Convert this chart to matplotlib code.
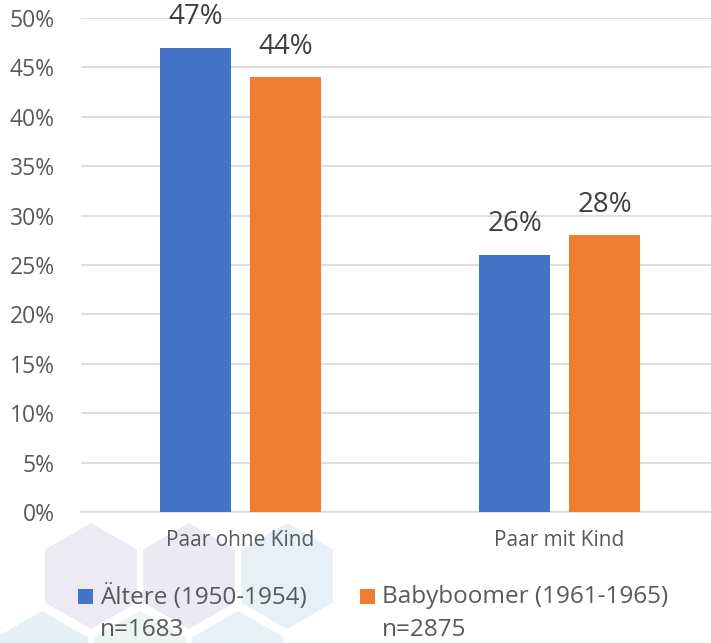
import numpy as np
import matplotlib.pyplot as plt
from matplotlib.patches import RegularPolygon, Rectangle

plt.rcParams['font.family'] = ['Open Sans', 'DejaVu Sans']

# Data
categories = ['Paar ohne Kind', 'Paar mit Kind']
series_names = ['Ältere (1950-1954)', 'Babyboomer (1961-1965)']
series_n = ['n=1683', 'n=2875']
aeltere = [47, 26]
babyboomer = [44, 28]
yticks = [0, 5, 10, 15, 20, 25, 30, 35, 40, 45, 50]

colors = ['#4472C4', '#ED7D31']
W, H = 711, 643
fig = plt.figure(figsize=(W / 100, H / 100), dpi=100)

# faint hexagon watermark in the lower left (pixel coords, top-left origin)
hexes = [(91, 576, '#ECEAF3'), (189, 576, '#EBE9F2'), (287, 576, '#E7F0F6'),
         (42, 664, '#E5F0F5'), (140, 664, '#ECF5F1'), (238, 664, '#E8F2F6')]
for hx, hy, hc in hexes:
    fig.patches.append(RegularPolygon((hx, H - hy), 6, radius=53,
                                      orientation=0, facecolor=hc, edgecolor='none',
                                      transform=None, zorder=-5))

ax = fig.add_axes([81 / W, (H - 512) / H, (W - 81) / W, 494 / H])
ax.patch.set_alpha(0)
ax.set_zorder(2)

x = np.arange(len(categories))
width = 0.223
off = 0.141
b1 = ax.bar(x - off, aeltere, width, color=colors[0], zorder=3)
b2 = ax.bar(x + off, babyboomer, width, color=colors[1], zorder=3)

for bars, vals in ((b1, aeltere), (b2, babyboomer)):
    for r, v in zip(bars, vals):
        ax.annotate(f'{v}%', (r.get_x() + r.get_width() / 2, v), xytext=(0, 12),
                    textcoords='offset points', ha='center', va='bottom',
                    fontsize=20, color='#404040')

ax.set_ylim(0, 50)
ax.set_xlim(-0.5, 1.5 - 8 / 319)
ax.set_yticks(yticks)
ax.set_yticklabels([f'{t}%' for t in yticks])
ax.set_xticks(x)
ax.set_xticklabels(categories)
ax.yaxis.grid(True, color='#D9D9D9', linewidth=1.2, zorder=0)
for s in ['top', 'right', 'left']:
    ax.spines[s].set_visible(False)
ax.spines['bottom'].set_color('#D9D9D9')
ax.spines['bottom'].set_linewidth(1.2)
ax.tick_params(axis='y', length=0, pad=19, labelsize=16.5, labelcolor='#595959')
ax.tick_params(axis='x', length=0, pad=13, labelsize=15, labelcolor='#595959')

# legend
leg_items = [(78, colors[0], series_names[0], series_n[0]),
             (360, colors[1], series_names[1], series_n[1])]
for lx, lc, name, n in leg_items:
    fig.patches.append(Rectangle((lx / W, 1 - 604 / H), 15 / W, 15 / H,
                                 facecolor=lc, edgecolor='none',
                                 transform=fig.transFigure, zorder=3))
    fig.text((lx + 22) / W, 1 - 597 / H, name, fontsize=17.5, color='#595959',
             va='center', ha='left', zorder=3)
    fig.text((lx + 22) / W, 1 - 630 / H, n, fontsize=17.5, color='#595959',
             va='center', ha='left', zorder=3)

fig.savefig('out.png', dpi=100)
